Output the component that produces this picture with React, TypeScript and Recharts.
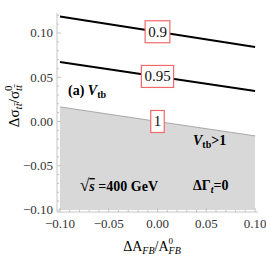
import { ComposedChart, Line, Area, XAxis, YAxis, LabelList } from 'recharts';

// contour lines of V_tb, read at the left edge, centre and right edge
const xValues = [-0.1, 0, 0.1];
const contour090 = [0.1186, 0.1014, 0.0842];
const contour095 = [0.0672, 0.0509, 0.0345];
const contour100 = [0.0165, 0.0, -0.0163];

const majorX = [-0.1, -0.05, 0, 0.05, 0.1];
const minorX = [
  -0.1, -0.09, -0.08, -0.07, -0.06, -0.05, -0.04, -0.03, -0.02, -0.01, 0,
  0.01, 0.02, 0.03, 0.04, 0.05, 0.06, 0.07, 0.08, 0.09, 0.1,
];
const majorY = [-0.1, -0.05, 0, 0.05, 0.1];
const minorY = [
  -0.1, -0.09, -0.08, -0.07, -0.06, -0.05, -0.04, -0.03, -0.02, -0.01, 0,
  0.01, 0.02, 0.03, 0.04, 0.05, 0.06, 0.07, 0.08, 0.09, 0.1, 0.11, 0.12,
];

const data = xValues.map((x, i) => ({
  x,
  c090: contour090[i],
  c095: contour095[i],
  c100: contour100[i],
}));

const serif = '"Liberation Serif", "DejaVu Serif", serif';
const frameColor = '#c4c4c4';

const isMajor = (v: number, list: number[]) => list.some((m) => Math.abs(m - v) < 1e-9);
const fmt = (v: number) => (Math.abs(v) < 1e-9 ? '0.00' : v.toFixed(2).replace('-', '\u2212'));

const FrameTick = (props: any) => {
  const { x, y, payload, side } = props;
  const v = payload.value;
  const major = isMajor(v, side === 'bottom' || side === 'top' ? majorX : majorY);
  const len = major ? 4 : 2;
  let x2 = x;
  let y2 = y;
  if (side === 'bottom') y2 = y - len;
  if (side === 'top') y2 = y + len;
  if (side === 'left') x2 = x + len;
  if (side === 'right') x2 = x - len;
  return (
    <g>
      <line x1={x} y1={y} x2={x2} y2={y2} stroke={frameColor} strokeWidth={1} />
      {major && side === 'bottom' && (
        <text x={x} y={y + 16} textAnchor="middle" fontFamily={serif} fontSize={13} fill="#333">
          {fmt(v)}
        </text>
      )}
      {major && side === 'left' && (
        <text x={x - 4} y={y + 4.5} textAnchor="end" fontFamily={serif} fontSize={13} fill="#333">
          {fmt(v)}
        </text>
      )}
    </g>
  );
};

const boxLabel = (text: string) => (props: any) => {
  const { index } = props;
  if (index !== 1) return null;
  const cx = props.x ?? props.viewBox?.x;
  const cy = props.y ?? props.viewBox?.y;
  const w = text.replace('.', '').length * 7.5 + (text.includes('.') ? 3.75 : 0) + 6;
  const h = 22;
  return (
    <g>
      <rect x={cx - w / 2} y={cy - h / 2} width={w} height={h} fill="#fff" stroke="#f06a6a" strokeWidth={1.2} />
      <text x={cx} y={cy + 5} textAnchor="middle" fontFamily={serif} fontSize={15} fill="#111">
        {text}
      </text>
    </g>
  );
};

// text drawn on top of the chart (region labels and axis titles)
const Annotations = () => (
  <svg
    width={266}
    height={266}
    style={{ position: 'absolute', left: 0, top: 0, pointerEvents: 'none' }}
  >
    <g fontFamily={serif} fontWeight="bold" fill="#000">
      <text x={68} y={95} fontSize={14}>
        (a) <tspan fontStyle="italic">V</tspan>
        <tspan fontSize={10} dy={3}>tb</tspan>
      </text>
      <text x={193} y={145} fontSize={14}>
        <tspan fontStyle="italic">V</tspan>
        <tspan fontSize={10} dy={3}>tb</tspan>
        <tspan dy={-3}>&gt;1</tspan>
      </text>
      <text x={80} y={191} fontSize={14}>
        <tspan fontSize={17}>{'\u221A'}</tspan>
        <tspan fontStyle="italic" style={{ textDecoration: 'overline' }}>s</tspan>
        <tspan> =400 GeV</tspan>
      </text>
      <text x={193} y={190} fontSize={14}>
        {'\u0394\u0393'}
        <tspan fontStyle="italic" fontSize={10} dy={3}>t</tspan>
        <tspan dy={-3}>=0</tspan>
      </text>
      <g fontWeight="normal">
        <text transform="translate(19,106) rotate(-90)" textAnchor="middle" fontSize={15}>
          {'\u0394\u03C3'}
          <tspan fontStyle="italic" fontSize={11} dy={3}>{'tt\u0304'}</tspan>
          <tspan dy={-3}>/{'\u03C3'}</tspan>
          <tspan fontSize={11} dy={-7}>0</tspan>
          <tspan fontStyle="italic" fontSize={11} dx={-5.5} dy={10}>{'tt\u0304'}</tspan>
        </text>
        <text x={152} y={251} textAnchor="middle" fontSize={14}>
          {'\u0394A'}
          <tspan fontStyle="italic" fontSize={10} dy={3}>FB</tspan>
          <tspan dy={-3}>/A</tspan>
          <tspan fontSize={9} dy={-7}>0</tspan>
          <tspan fontStyle="italic" fontSize={10} dx={-4.5} dy={10}>FB</tspan>
        </text>
      </g>
    </g>
  </svg>
);

export default function App() {
  return (
    <div style={{ position: 'absolute', left: 0, top: 0, width: 266, height: 266, background: '#fff' }}>
      <ComposedChart width={266} height={266} data={data} margin={{ top: 13, right: 8, bottom: 0, left: 0 }}>
        <XAxis
          xAxisId="b"
          dataKey="x"
          type="number"
          domain={[-0.103, 0.103]}
          ticks={minorX}
          interval={0}
          height={54}
          tickSize={0}
          tickMargin={0}
          tickLine={false}
          axisLine={{ stroke: frameColor }}
          tick={<FrameTick side="bottom" />}
        />
        <XAxis
          xAxisId="t"
          dataKey="x"
          type="number"
          orientation="top"
          domain={[-0.103, 0.103]}
          ticks={minorX}
          interval={0}
          height={0}
          tickSize={0}
          tickMargin={0}
          tickLine={false}
          axisLine={{ stroke: frameColor }}
          tick={<FrameTick side="top" />}
        />
        <YAxis
          yAxisId="l"
          type="number"
          domain={[-0.1023, 0.1226]}
          ticks={minorY}
          interval={0}
          width={57}
          tickSize={0}
          tickMargin={0}
          tickLine={false}
          axisLine={{ stroke: frameColor }}
          tick={<FrameTick side="left" />}
        />
        <YAxis
          yAxisId="r"
          type="number"
          orientation="right"
          domain={[-0.1023, 0.1226]}
          ticks={minorY}
          interval={0}
          width={0}
          tickSize={0}
          tickMargin={0}
          tickLine={false}
          axisLine={{ stroke: frameColor }}
          tick={<FrameTick side="right" />}
        />
        <Area
          xAxisId="b"
          yAxisId="l"
          dataKey="c100"
          type="linear"
          baseValue={-0.1}
          fill="#d8d8d8"
          fillOpacity={1}
          stroke="#a8a8a8"
          strokeWidth={1}
          isAnimationActive={false}
        >
          <LabelList dataKey="c100" content={boxLabel('1')} />
        </Area>
        <Line
          xAxisId="b"
          yAxisId="l"
          dataKey="c090"
          type="linear"
          stroke="#000"
          strokeWidth={2}
          dot={false}
          isAnimationActive={false}
        >
          <LabelList dataKey="c090" content={boxLabel('0.9')} />
        </Line>
        <Line
          xAxisId="b"
          yAxisId="l"
          dataKey="c095"
          type="linear"
          stroke="#000"
          strokeWidth={2}
          dot={false}
          isAnimationActive={false}
        >
          <LabelList dataKey="c095" content={boxLabel('0.95')} />
        </Line>
      </ComposedChart>
      <Annotations />
    </div>
  );
}
